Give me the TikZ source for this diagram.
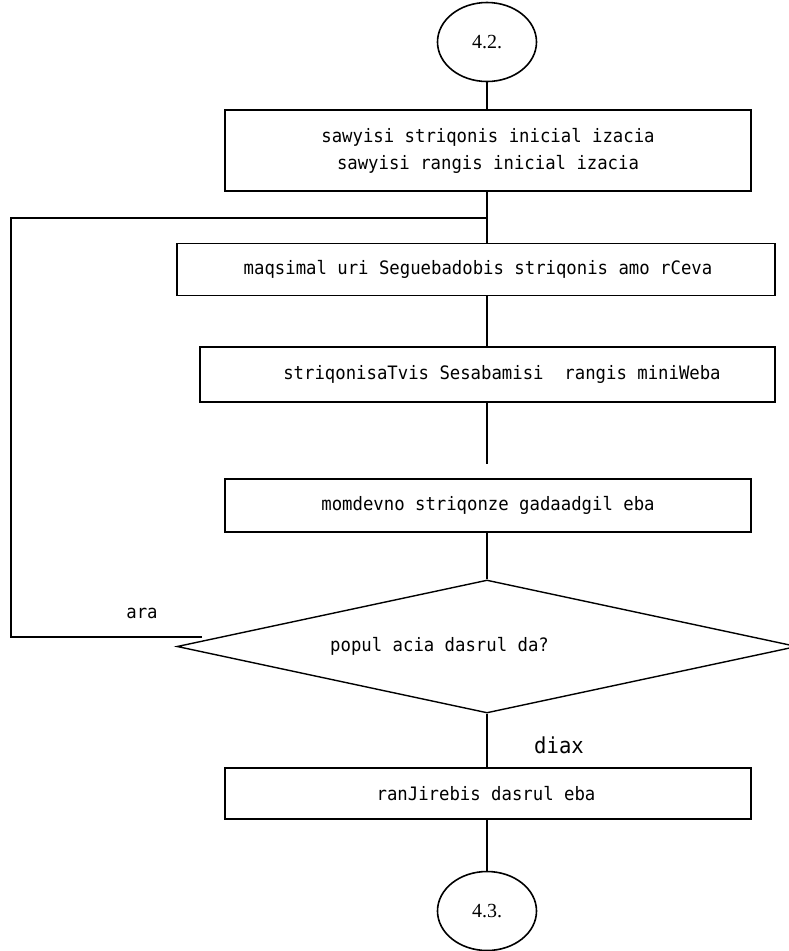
\documentclass[tikz,border=0pt]{standalone}
\usepackage{fontspec}
\setmainfont{Liberation Serif}
\newfontfamily\gmono[FakeStretch=0.935]{DejaVu Sans Mono}
\usetikzlibrary{shapes.geometric}

\tikzset{
  stepbox/.style={draw, line width=1.9pt, rectangle, inner sep=0pt},
  conn/.style={line width=1.9pt},
  terminal/.style={draw, ellipse, line width=1.6pt, inner sep=0pt,
                   minimum width=99pt, minimum height=79pt,
                   font=\fontsize{20}{24}\selectfont},
  decision/.style={draw, diamond, line width=1.4pt, inner sep=0pt},
  txt/.style={inner sep=0pt, font=\gmono\fontsize{18.5}{27}\selectfont},
  bigtxt/.style={inner sep=0pt, font=\gmono\fontsize{22}{26}\selectfont},
}

\begin{document}
\begin{tikzpicture}[x=1pt, y=-1pt]
  \useasboundingbox (0,0) rectangle (789,951);

  % terminals
  \node[terminal] (e1) at (487,42) {4.2.};
  \node[terminal] (e2) at (487,911) {4.3.};

  % process boxes
  \node[stepbox, minimum width=526pt, minimum height=81pt] (b1) at (488,150.5) {};
  \node[txt, align=center] (b1t) at (488,150.5)
    {sawyisi striqonis inicial izacia\\sawyisi rangis inicial izacia};

  \node[stepbox, minimum width=598pt, minimum height=52pt] (b2) at (476,269.5) {};
  \node[txt] (b2t) at (478,269.5) {maqsimal uri Seguebadobis striqonis amo rCeva};

  \node[stepbox, minimum width=575pt, minimum height=55pt] (b3) at (487.5,374.5) {};
  \node[txt] (b3t) at (502,374.5) {striqonisaTvis Sesabamisi\ \ rangis miniWeba};

  \node[stepbox, minimum width=526pt, minimum height=53pt] (b4) at (488,505.5) {};
  \node[txt] (b4t) at (488,505.5) {momdevno striqonze gadaadgil eba};

  % decision
  \node[decision, minimum width=620pt, minimum height=133pt] (d) at (487,646.5) {};
  \node[txt, anchor=west] (dt) at (330,646.5) {popul acia dasrul da?};

  \node[stepbox, minimum width=526pt, minimum height=51pt] (b5) at (488,793.5) {};
  \node[txt] (b5t) at (486,793.5) {ranJirebis dasrul eba};

  % branch labels
  \node[txt] (ara) at (142,613) {ara};
  \node[bigtxt] (diax) at (559,745) {diax};

  % spine connectors
  \coordinate (spine) at (487,0);
  \draw[conn] (e1.south) -- (b1.north -| spine);
  \draw[conn] (b1.south -| spine) -- (b2.north -| spine);
  \draw[conn] (b2.south -| spine) -- (b3.north -| spine);
  \coordinate (stub) at (487,464);
  \draw[conn] (b3.south -| spine) -- (stub);
  \draw[conn] (b4.south -| spine) -- (d.north);
  \draw[conn] (d.south) -- (b5.north -| spine);
  \draw[conn] (b5.south -| spine) -- (e2.north);

  % loop back from the decision
  \coordinate (lend) at (202,637);
  \coordinate (lbot) at (11,637);
  \coordinate (ltop) at (11,218);
  \coordinate (join) at (487,218);
  \draw[conn] (lend) -- (lbot) -- (ltop) -- (join);
\end{tikzpicture}
\end{document}
